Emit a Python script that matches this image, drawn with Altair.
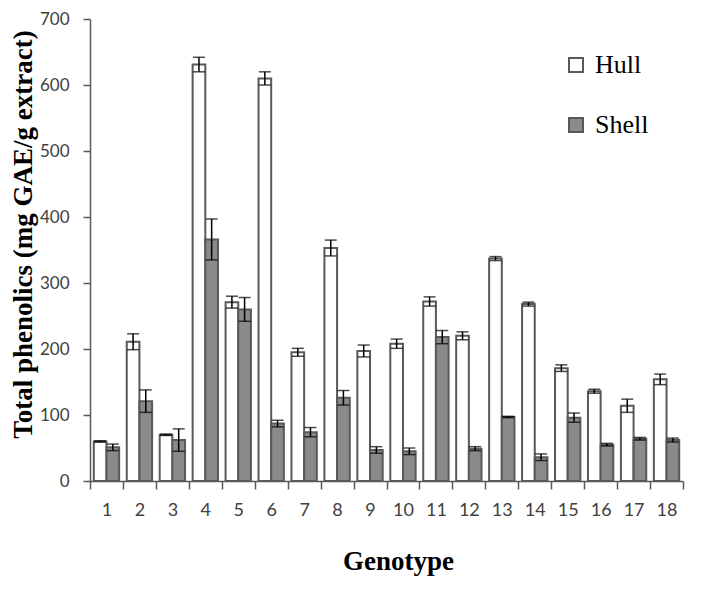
import altair as alt
import pandas as pd

genotypes = [str(i) for i in range(1, 19)]
series_names = ["Hull", "Shell"]
hull = [60, 211, 70, 631, 271, 610, 195, 353, 197, 208, 272, 220, 337, 268, 171, 136, 114, 154]
hull_err = [1, 12, 1, 11, 9, 10, 6, 12, 9, 7, 7, 6, 3, 3, 5, 3, 10, 8]
shell = [51, 121, 62, 366, 260, 87, 74, 126, 47, 45, 218, 49, 97, 36, 96, 55, 64, 62]
shell_err = [5, 17, 17, 31, 18, 5, 7, 11, 5, 5, 10, 3, 1, 5, 7, 2, 2, 3]
y_ticks = [0, 100, 200, 300, 400, 500, 600, 700]

rows = []
for i, g in enumerate(genotypes):
    for s, vals, errs in (("Hull", hull, hull_err), ("Shell", shell, shell_err)):
        v, e = vals[i], errs[i]
        rows.append({"genotype": g, "series": s, "value": v, "err": e,
                     "lo": v - e, "hi": v + e})
df = pd.DataFrame(rows)

ytitle = "Total phenolics (mg GAE/g extract)"
axis_color = "#595959"

x_enc = alt.X(
    "genotype:N", sort=genotypes,
    scale=alt.Scale(paddingInner=0, paddingOuter=0),
    axis=alt.Axis(
        title="Genotype", labelAngle=0, tickBand="extent", tickSize=8,
        tickColor=axis_color, domainColor=axis_color, domainWidth=1.5, tickWidth=1.5,
        labelFont="Lato", labelFontSize=18, labelColor="#404040", labelPadding=12,
        titleFont="Liberation Serif", titleFontSize=27, titleFontWeight="bold",
        titleColor="black", titleX=308, titleY=88, titleBaseline="alphabetic",
        titleAlign="center",
    ),
)
xoff_enc = alt.XOffset(
    "series:N", sort=series_names,
    scale=alt.Scale(domain=series_names, paddingInner=0, paddingOuter=0.3),
)

y_axis = alt.Axis(
    values=y_ticks, grid=False, tickSize=7, tickColor=axis_color, tickWidth=1.5,
    domainColor=axis_color, domainWidth=1.5,
    labelFont="Lato", labelFontSize=17, labelColor="#404040", labelPadding=14,
    titleFont="Liberation Serif", titleFontSize=27, titleFontWeight="bold",
    titleColor="black", titleX=-67, titleY=215, titleAngle=270,
    titleAlign="center", titleBaseline="middle",
)
y_scale = alt.Scale(domain=[0, 700], nice=False)

base = alt.Chart(df).encode(x=x_enc, xOffset=xoff_enc)

bars = base.mark_bar(stroke=axis_color, strokeWidth=2).encode(
    y=alt.Y("value:Q", scale=y_scale, axis=y_axis, title=ytitle),
    color=alt.Color(
        "series:N",
        scale=alt.Scale(domain=series_names, range=["#ffffff", "#8a8a8a"]),
        legend=alt.Legend(
            title=None, orient="none", legendX=473, legendY=33,
            symbolType="square", symbolSize=196, symbolStrokeWidth=2,
            symbolStrokeColor=axis_color, labelFont="Liberation Serif",
            labelFontSize=26, labelColor="black", rowPadding=34, labelOffset=6,
        ),
    ),
)

rules = base.mark_rule(color="black", strokeWidth=1.5).encode(
    y=alt.Y("lo:Q", scale=y_scale, title=ytitle), y2="hi:Q"
)
cap_hi = base.mark_tick(color="black", thickness=1.5, size=12).encode(
    y=alt.Y("hi:Q", scale=y_scale, title=ytitle)
)
cap_lo = base.mark_tick(color="black", thickness=1.5, size=12).encode(
    y=alt.Y("lo:Q", scale=y_scale, title=ytitle)
)

chart = (
    alt.layer(bars, rules, cap_hi, cap_lo)
    .properties(
        width=593, height=462,
        autosize=alt.AutoSizeParams(type="none"),
        padding={"left": 82, "top": 11, "right": 30, "bottom": 100},
    )
    .configure_view(stroke=None)
)

chart.save("out.html", embed_options={"renderer": "svg", "actions": False})
